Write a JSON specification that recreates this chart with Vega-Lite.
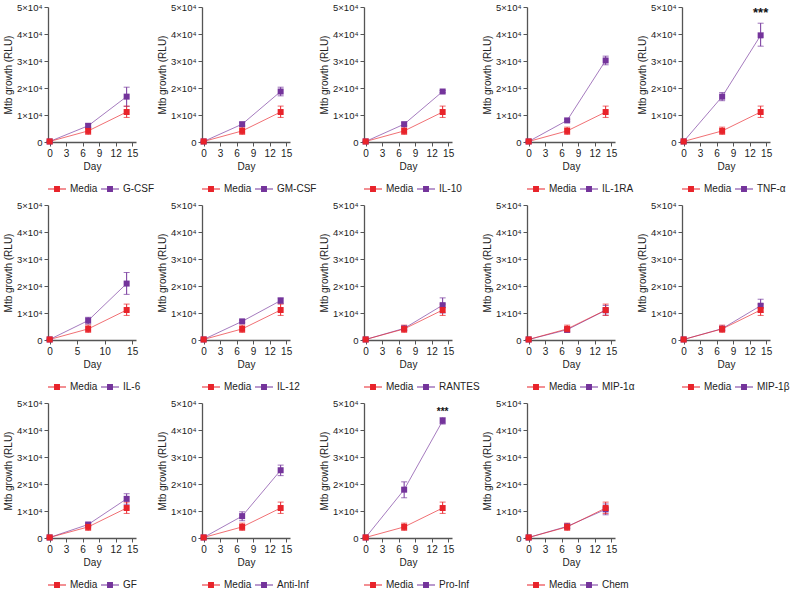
{
"$schema":"https://vega.github.io/schema/vega-lite/v6.json",
"padding":{"left":3,"top":2,"right":0,"bottom":0},
"background":"white",
"data":{"values":[
{"p":"G-CSF","g":"G-CSF","d":0,"m":200,"lo":100,"hi":300},
{"p":"G-CSF","g":"G-CSF","d":7,"m":6000,"lo":5300,"hi":6700},
{"p":"G-CSF","g":"G-CSF","d":14,"m":16800,"lo":13200,"hi":20300},
{"p":"GM-CSF","g":"GM-CSF","d":0,"m":200,"lo":100,"hi":300},
{"p":"GM-CSF","g":"GM-CSF","d":7,"m":6600,"lo":6000,"hi":7200},
{"p":"GM-CSF","g":"GM-CSF","d":14,"m":18700,"lo":17100,"hi":20300},
{"p":"IL-10","g":"IL-10","d":0,"m":200,"lo":100,"hi":300},
{"p":"IL-10","g":"IL-10","d":7,"m":6600,"lo":6100,"hi":7100},
{"p":"IL-10","g":"IL-10","d":14,"m":18700,"lo":18300,"hi":19100},
{"p":"IL-1RA","g":"IL-1RA","d":0,"m":200,"lo":100,"hi":300},
{"p":"IL-1RA","g":"IL-1RA","d":7,"m":8000,"lo":7600,"hi":8400},
{"p":"IL-1RA","g":"IL-1RA","d":14,"m":30200,"lo":28600,"hi":31800},
{"p":"TNF-α","g":"TNF-α","d":0,"m":200,"lo":100,"hi":300},
{"p":"TNF-α","g":"TNF-α","d":7,"m":16800,"lo":15300,"hi":18300},
{"p":"TNF-α","g":"TNF-α","d":14,"m":39500,"lo":35500,"hi":44000,"sig":"***"},
{"p":"IL-6","g":"IL-6","d":0,"m":200,"lo":100,"hi":300},
{"p":"IL-6","g":"IL-6","d":7,"m":7200,"lo":5900,"hi":8400},
{"p":"IL-6","g":"IL-6","d":14,"m":20900,"lo":16900,"hi":25000},
{"p":"IL-12","g":"IL-12","d":0,"m":200,"lo":100,"hi":300},
{"p":"IL-12","g":"IL-12","d":7,"m":6900,"lo":6500,"hi":7300},
{"p":"IL-12","g":"IL-12","d":14,"m":14600,"lo":13500,"hi":15600},
{"p":"RANTES","g":"RANTES","d":0,"m":200,"lo":100,"hi":300},
{"p":"RANTES","g":"RANTES","d":7,"m":4300,"lo":3600,"hi":5000},
{"p":"RANTES","g":"RANTES","d":14,"m":12900,"lo":10000,"hi":15600},
{"p":"MIP-1α","g":"MIP-1α","d":0,"m":200,"lo":100,"hi":300},
{"p":"MIP-1α","g":"MIP-1α","d":7,"m":3800,"lo":3000,"hi":4600},
{"p":"MIP-1α","g":"MIP-1α","d":14,"m":11000,"lo":9200,"hi":12800},
{"p":"MIP-1β","g":"MIP-1β","d":0,"m":200,"lo":100,"hi":300},
{"p":"MIP-1β","g":"MIP-1β","d":7,"m":4200,"lo":3500,"hi":4900},
{"p":"MIP-1β","g":"MIP-1β","d":14,"m":12700,"lo":10300,"hi":15100},
{"p":"GF","g":"GF","d":0,"m":200,"lo":100,"hi":300},
{"p":"GF","g":"GF","d":7,"m":5000,"lo":4500,"hi":5500},
{"p":"GF","g":"GF","d":14,"m":14500,"lo":12500,"hi":16400},
{"p":"Anti-Inf","g":"Anti-Inf","d":0,"m":200,"lo":100,"hi":300},
{"p":"Anti-Inf","g":"Anti-Inf","d":7,"m":8100,"lo":6400,"hi":9700},
{"p":"Anti-Inf","g":"Anti-Inf","d":14,"m":25100,"lo":23100,"hi":27000},
{"p":"Pro-Inf","g":"Pro-Inf","d":0,"m":200,"lo":100,"hi":300},
{"p":"Pro-Inf","g":"Pro-Inf","d":7,"m":17900,"lo":14900,"hi":20800},
{"p":"Pro-Inf","g":"Pro-Inf","d":14,"m":43400,"lo":42200,"hi":44600,"sig":"***"},
{"p":"Chem","g":"Chem","d":0,"m":200,"lo":100,"hi":300},
{"p":"Chem","g":"Chem","d":7,"m":4300,"lo":3500,"hi":5100},
{"p":"Chem","g":"Chem","d":14,"m":10600,"lo":8600,"hi":12600},
{"p":"G-CSF","g":"Media","d":0,"m":200,"lo":100,"hi":300},
{"p":"G-CSF","g":"Media","d":7,"m":4100,"lo":2800,"hi":5500},
{"p":"G-CSF","g":"Media","d":14,"m":11100,"lo":9100,"hi":13300},
{"p":"GM-CSF","g":"Media","d":0,"m":200,"lo":100,"hi":300},
{"p":"GM-CSF","g":"Media","d":7,"m":4100,"lo":2800,"hi":5500},
{"p":"GM-CSF","g":"Media","d":14,"m":11100,"lo":9100,"hi":13300},
{"p":"IL-10","g":"Media","d":0,"m":200,"lo":100,"hi":300},
{"p":"IL-10","g":"Media","d":7,"m":4100,"lo":2800,"hi":5500},
{"p":"IL-10","g":"Media","d":14,"m":11100,"lo":9100,"hi":13300},
{"p":"IL-1RA","g":"Media","d":0,"m":200,"lo":100,"hi":300},
{"p":"IL-1RA","g":"Media","d":7,"m":4100,"lo":2800,"hi":5500},
{"p":"IL-1RA","g":"Media","d":14,"m":11100,"lo":9100,"hi":13300},
{"p":"TNF-α","g":"Media","d":0,"m":200,"lo":100,"hi":300},
{"p":"TNF-α","g":"Media","d":7,"m":4100,"lo":2800,"hi":5500},
{"p":"TNF-α","g":"Media","d":14,"m":11100,"lo":9100,"hi":13300},
{"p":"IL-6","g":"Media","d":0,"m":200,"lo":100,"hi":300},
{"p":"IL-6","g":"Media","d":7,"m":4100,"lo":2800,"hi":5500},
{"p":"IL-6","g":"Media","d":14,"m":11100,"lo":9100,"hi":13300},
{"p":"IL-12","g":"Media","d":0,"m":200,"lo":100,"hi":300},
{"p":"IL-12","g":"Media","d":7,"m":4100,"lo":2800,"hi":5500},
{"p":"IL-12","g":"Media","d":14,"m":11100,"lo":9100,"hi":13300},
{"p":"RANTES","g":"Media","d":0,"m":200,"lo":100,"hi":300},
{"p":"RANTES","g":"Media","d":7,"m":4100,"lo":2800,"hi":5500},
{"p":"RANTES","g":"Media","d":14,"m":11100,"lo":9100,"hi":13300},
{"p":"MIP-1α","g":"Media","d":0,"m":200,"lo":100,"hi":300},
{"p":"MIP-1α","g":"Media","d":7,"m":4100,"lo":2800,"hi":5500},
{"p":"MIP-1α","g":"Media","d":14,"m":11100,"lo":9100,"hi":13300},
{"p":"MIP-1β","g":"Media","d":0,"m":200,"lo":100,"hi":300},
{"p":"MIP-1β","g":"Media","d":7,"m":4100,"lo":2800,"hi":5500},
{"p":"MIP-1β","g":"Media","d":14,"m":11100,"lo":9100,"hi":13300},
{"p":"GF","g":"Media","d":0,"m":200,"lo":100,"hi":300},
{"p":"GF","g":"Media","d":7,"m":4100,"lo":2800,"hi":5500},
{"p":"GF","g":"Media","d":14,"m":11100,"lo":9100,"hi":13300},
{"p":"Anti-Inf","g":"Media","d":0,"m":200,"lo":100,"hi":300},
{"p":"Anti-Inf","g":"Media","d":7,"m":4100,"lo":2800,"hi":5500},
{"p":"Anti-Inf","g":"Media","d":14,"m":11100,"lo":9100,"hi":13300},
{"p":"Pro-Inf","g":"Media","d":0,"m":200,"lo":100,"hi":300},
{"p":"Pro-Inf","g":"Media","d":7,"m":4100,"lo":2800,"hi":5500},
{"p":"Pro-Inf","g":"Media","d":14,"m":11100,"lo":9100,"hi":13300},
{"p":"Chem","g":"Media","d":0,"m":200,"lo":100,"hi":300},
{"p":"Chem","g":"Media","d":7,"m":4100,"lo":2800,"hi":5500},
{"p":"Chem","g":"Media","d":14,"m":11100,"lo":9100,"hi":13300}
]},
"columns":5,
"spacing":{"row":6,"column":2},
"resolve":{"scale":{"color":"independent"},"legend":{"color":"independent"}},
"concat":[
{"width":88,"height":135,"transform":[{"filter":"datum.p == 'G-CSF'"}],
"encoding":{"x":{"field":"d","type":"quantitative","scale":{"domain":[-0.3,15.7],"nice":false,"zero":false},"axis":{"values":[0,3,6,9,12,15],"title":"Day"}},
"y":{"field":"m","type":"quantitative","scale":{"domain":[0,50000],"nice":false},"axis":{"values":[0,10000,20000,30000,40000,50000],"labelExpr":"datum.value == 0 ? '0' : (datum.value/10000) + '×10⁴'","title":"Mtb growth (RLU)"}},
"color":{"field":"g","type":"nominal","scale":{"domain":["Media","G-CSF"],"range":["#e8232a","#74349b"]},"legend":{"title":null}}},
"layer":[
{"mark":{"type":"line","strokeWidth":1,"opacity":0.65}},
{"mark":{"type":"rule","strokeWidth":1},"encoding":{"y":{"field":"lo","type":"quantitative","scale":{"domain":[0,50000],"nice":false}},"y2":{"field":"hi"}}},
{"mark":{"type":"tick","orient":"horizontal","size":6,"thickness":1},"encoding":{"y":{"field":"lo","type":"quantitative","scale":{"domain":[0,50000],"nice":false}}}},
{"mark":{"type":"tick","orient":"horizontal","size":6,"thickness":1},"encoding":{"y":{"field":"hi","type":"quantitative","scale":{"domain":[0,50000],"nice":false}}}},
{"mark":{"type":"square","size":36,"opacity":1,"filled":true}}
]},
{"width":88,"height":135,"transform":[{"filter":"datum.p == 'GM-CSF'"}],
"encoding":{"x":{"field":"d","type":"quantitative","scale":{"domain":[-0.3,15.7],"nice":false,"zero":false},"axis":{"values":[0,3,6,9,12,15],"title":"Day"}},
"y":{"field":"m","type":"quantitative","scale":{"domain":[0,50000],"nice":false},"axis":{"values":[0,10000,20000,30000,40000,50000],"labelExpr":"datum.value == 0 ? '0' : (datum.value/10000) + '×10⁴'","title":"Mtb growth (RLU)"}},
"color":{"field":"g","type":"nominal","scale":{"domain":["Media","GM-CSF"],"range":["#e8232a","#74349b"]},"legend":{"title":null}}},
"layer":[
{"mark":{"type":"line","strokeWidth":1,"opacity":0.65}},
{"mark":{"type":"rule","strokeWidth":1},"encoding":{"y":{"field":"lo","type":"quantitative","scale":{"domain":[0,50000],"nice":false}},"y2":{"field":"hi"}}},
{"mark":{"type":"tick","orient":"horizontal","size":6,"thickness":1},"encoding":{"y":{"field":"lo","type":"quantitative","scale":{"domain":[0,50000],"nice":false}}}},
{"mark":{"type":"tick","orient":"horizontal","size":6,"thickness":1},"encoding":{"y":{"field":"hi","type":"quantitative","scale":{"domain":[0,50000],"nice":false}}}},
{"mark":{"type":"square","size":36,"opacity":1,"filled":true}}
]},
{"width":88,"height":135,"transform":[{"filter":"datum.p == 'IL-10'"}],
"encoding":{"x":{"field":"d","type":"quantitative","scale":{"domain":[-0.3,15.7],"nice":false,"zero":false},"axis":{"values":[0,3,6,9,12,15],"title":"Day"}},
"y":{"field":"m","type":"quantitative","scale":{"domain":[0,50000],"nice":false},"axis":{"values":[0,10000,20000,30000,40000,50000],"labelExpr":"datum.value == 0 ? '0' : (datum.value/10000) + '×10⁴'","title":"Mtb growth (RLU)"}},
"color":{"field":"g","type":"nominal","scale":{"domain":["Media","IL-10"],"range":["#e8232a","#74349b"]},"legend":{"title":null}}},
"layer":[
{"mark":{"type":"line","strokeWidth":1,"opacity":0.65}},
{"mark":{"type":"rule","strokeWidth":1},"encoding":{"y":{"field":"lo","type":"quantitative","scale":{"domain":[0,50000],"nice":false}},"y2":{"field":"hi"}}},
{"mark":{"type":"tick","orient":"horizontal","size":6,"thickness":1},"encoding":{"y":{"field":"lo","type":"quantitative","scale":{"domain":[0,50000],"nice":false}}}},
{"mark":{"type":"tick","orient":"horizontal","size":6,"thickness":1},"encoding":{"y":{"field":"hi","type":"quantitative","scale":{"domain":[0,50000],"nice":false}}}},
{"mark":{"type":"square","size":36,"opacity":1,"filled":true}}
]},
{"width":88,"height":135,"transform":[{"filter":"datum.p == 'IL-1RA'"}],
"encoding":{"x":{"field":"d","type":"quantitative","scale":{"domain":[-0.3,15.7],"nice":false,"zero":false},"axis":{"values":[0,3,6,9,12,15],"title":"Day"}},
"y":{"field":"m","type":"quantitative","scale":{"domain":[0,50000],"nice":false},"axis":{"values":[0,10000,20000,30000,40000,50000],"labelExpr":"datum.value == 0 ? '0' : (datum.value/10000) + '×10⁴'","title":"Mtb growth (RLU)"}},
"color":{"field":"g","type":"nominal","scale":{"domain":["Media","IL-1RA"],"range":["#e8232a","#74349b"]},"legend":{"title":null}}},
"layer":[
{"mark":{"type":"line","strokeWidth":1,"opacity":0.65}},
{"mark":{"type":"rule","strokeWidth":1},"encoding":{"y":{"field":"lo","type":"quantitative","scale":{"domain":[0,50000],"nice":false}},"y2":{"field":"hi"}}},
{"mark":{"type":"tick","orient":"horizontal","size":6,"thickness":1},"encoding":{"y":{"field":"lo","type":"quantitative","scale":{"domain":[0,50000],"nice":false}}}},
{"mark":{"type":"tick","orient":"horizontal","size":6,"thickness":1},"encoding":{"y":{"field":"hi","type":"quantitative","scale":{"domain":[0,50000],"nice":false}}}},
{"mark":{"type":"square","size":36,"opacity":1,"filled":true}}
]},
{"width":88,"height":135,"transform":[{"filter":"datum.p == 'TNF-α'"}],
"encoding":{"x":{"field":"d","type":"quantitative","scale":{"domain":[-0.3,15.7],"nice":false,"zero":false},"axis":{"values":[0,3,6,9,12,15],"title":"Day"}},
"y":{"field":"m","type":"quantitative","scale":{"domain":[0,50000],"nice":false},"axis":{"values":[0,10000,20000,30000,40000,50000],"labelExpr":"datum.value == 0 ? '0' : (datum.value/10000) + '×10⁴'","title":"Mtb growth (RLU)"}},
"color":{"field":"g","type":"nominal","scale":{"domain":["Media","TNF-α"],"range":["#e8232a","#74349b"]},"legend":{"title":null}}},
"layer":[
{"mark":{"type":"line","strokeWidth":1,"opacity":0.65}},
{"mark":{"type":"rule","strokeWidth":1},"encoding":{"y":{"field":"lo","type":"quantitative","scale":{"domain":[0,50000],"nice":false}},"y2":{"field":"hi"}}},
{"mark":{"type":"tick","orient":"horizontal","size":6,"thickness":1},"encoding":{"y":{"field":"lo","type":"quantitative","scale":{"domain":[0,50000],"nice":false}}}},
{"mark":{"type":"tick","orient":"horizontal","size":6,"thickness":1},"encoding":{"y":{"field":"hi","type":"quantitative","scale":{"domain":[0,50000],"nice":false}}}},
{"mark":{"type":"square","size":36,"opacity":1,"filled":true}},
{"transform":[{"filter":"datum.sig"}],"mark":{"type":"text","fontSize":13,"fontWeight":"bold","baseline":"bottom","dy":-3,"color":"#111"},"encoding":{"y":{"field":"hi","type":"quantitative","scale":{"domain":[0,50000],"nice":false}},"text":{"field":"sig"},"color":{"value":"#111"}}}
]},
{"width":88,"height":135,"transform":[{"filter":"datum.p == 'IL-6'"}],
"encoding":{"x":{"field":"d","type":"quantitative","scale":{"domain":[-0.3,15.7],"nice":false,"zero":false},"axis":{"values":[0,5,10,15],"title":"Day"}},
"y":{"field":"m","type":"quantitative","scale":{"domain":[0,50000],"nice":false},"axis":{"values":[0,10000,20000,30000,40000,50000],"labelExpr":"datum.value == 0 ? '0' : (datum.value/10000) + '×10⁴'","title":"Mtb growth (RLU)"}},
"color":{"field":"g","type":"nominal","scale":{"domain":["Media","IL-6"],"range":["#e8232a","#74349b"]},"legend":{"title":null}}},
"layer":[
{"mark":{"type":"line","strokeWidth":1,"opacity":0.65}},
{"mark":{"type":"rule","strokeWidth":1},"encoding":{"y":{"field":"lo","type":"quantitative","scale":{"domain":[0,50000],"nice":false}},"y2":{"field":"hi"}}},
{"mark":{"type":"tick","orient":"horizontal","size":6,"thickness":1},"encoding":{"y":{"field":"lo","type":"quantitative","scale":{"domain":[0,50000],"nice":false}}}},
{"mark":{"type":"tick","orient":"horizontal","size":6,"thickness":1},"encoding":{"y":{"field":"hi","type":"quantitative","scale":{"domain":[0,50000],"nice":false}}}},
{"mark":{"type":"square","size":36,"opacity":1,"filled":true}}
]},
{"width":88,"height":135,"transform":[{"filter":"datum.p == 'IL-12'"}],
"encoding":{"x":{"field":"d","type":"quantitative","scale":{"domain":[-0.3,15.7],"nice":false,"zero":false},"axis":{"values":[0,3,6,9,12,15],"title":"Day"}},
"y":{"field":"m","type":"quantitative","scale":{"domain":[0,50000],"nice":false},"axis":{"values":[0,10000,20000,30000,40000,50000],"labelExpr":"datum.value == 0 ? '0' : (datum.value/10000) + '×10⁴'","title":"Mtb growth (RLU)"}},
"color":{"field":"g","type":"nominal","scale":{"domain":["Media","IL-12"],"range":["#e8232a","#74349b"]},"legend":{"title":null}}},
"layer":[
{"mark":{"type":"line","strokeWidth":1,"opacity":0.65}},
{"mark":{"type":"rule","strokeWidth":1},"encoding":{"y":{"field":"lo","type":"quantitative","scale":{"domain":[0,50000],"nice":false}},"y2":{"field":"hi"}}},
{"mark":{"type":"tick","orient":"horizontal","size":6,"thickness":1},"encoding":{"y":{"field":"lo","type":"quantitative","scale":{"domain":[0,50000],"nice":false}}}},
{"mark":{"type":"tick","orient":"horizontal","size":6,"thickness":1},"encoding":{"y":{"field":"hi","type":"quantitative","scale":{"domain":[0,50000],"nice":false}}}},
{"mark":{"type":"square","size":36,"opacity":1,"filled":true}}
]},
{"width":88,"height":135,"transform":[{"filter":"datum.p == 'RANTES'"}],
"encoding":{"x":{"field":"d","type":"quantitative","scale":{"domain":[-0.3,15.7],"nice":false,"zero":false},"axis":{"values":[0,3,6,9,12,15],"title":"Day"}},
"y":{"field":"m","type":"quantitative","scale":{"domain":[0,50000],"nice":false},"axis":{"values":[0,10000,20000,30000,40000,50000],"labelExpr":"datum.value == 0 ? '0' : (datum.value/10000) + '×10⁴'","title":"Mtb growth (RLU)"}},
"color":{"field":"g","type":"nominal","scale":{"domain":["Media","RANTES"],"range":["#e8232a","#74349b"]},"legend":{"title":null}}},
"layer":[
{"mark":{"type":"line","strokeWidth":1,"opacity":0.65}},
{"mark":{"type":"rule","strokeWidth":1},"encoding":{"y":{"field":"lo","type":"quantitative","scale":{"domain":[0,50000],"nice":false}},"y2":{"field":"hi"}}},
{"mark":{"type":"tick","orient":"horizontal","size":6,"thickness":1},"encoding":{"y":{"field":"lo","type":"quantitative","scale":{"domain":[0,50000],"nice":false}}}},
{"mark":{"type":"tick","orient":"horizontal","size":6,"thickness":1},"encoding":{"y":{"field":"hi","type":"quantitative","scale":{"domain":[0,50000],"nice":false}}}},
{"mark":{"type":"square","size":36,"opacity":1,"filled":true}}
]},
{"width":88,"height":135,"transform":[{"filter":"datum.p == 'MIP-1α'"}],
"encoding":{"x":{"field":"d","type":"quantitative","scale":{"domain":[-0.3,15.7],"nice":false,"zero":false},"axis":{"values":[0,3,6,9,12,15],"title":"Day"}},
"y":{"field":"m","type":"quantitative","scale":{"domain":[0,50000],"nice":false},"axis":{"values":[0,10000,20000,30000,40000,50000],"labelExpr":"datum.value == 0 ? '0' : (datum.value/10000) + '×10⁴'","title":"Mtb growth (RLU)"}},
"color":{"field":"g","type":"nominal","scale":{"domain":["Media","MIP-1α"],"range":["#e8232a","#74349b"]},"legend":{"title":null}}},
"layer":[
{"mark":{"type":"line","strokeWidth":1,"opacity":0.65}},
{"mark":{"type":"rule","strokeWidth":1},"encoding":{"y":{"field":"lo","type":"quantitative","scale":{"domain":[0,50000],"nice":false}},"y2":{"field":"hi"}}},
{"mark":{"type":"tick","orient":"horizontal","size":6,"thickness":1},"encoding":{"y":{"field":"lo","type":"quantitative","scale":{"domain":[0,50000],"nice":false}}}},
{"mark":{"type":"tick","orient":"horizontal","size":6,"thickness":1},"encoding":{"y":{"field":"hi","type":"quantitative","scale":{"domain":[0,50000],"nice":false}}}},
{"mark":{"type":"square","size":36,"opacity":1,"filled":true}}
]},
{"width":88,"height":135,"transform":[{"filter":"datum.p == 'MIP-1β'"}],
"encoding":{"x":{"field":"d","type":"quantitative","scale":{"domain":[-0.3,15.7],"nice":false,"zero":false},"axis":{"values":[0,3,6,9,12,15],"title":"Day"}},
"y":{"field":"m","type":"quantitative","scale":{"domain":[0,50000],"nice":false},"axis":{"values":[0,10000,20000,30000,40000,50000],"labelExpr":"datum.value == 0 ? '0' : (datum.value/10000) + '×10⁴'","title":"Mtb growth (RLU)"}},
"color":{"field":"g","type":"nominal","scale":{"domain":["Media","MIP-1β"],"range":["#e8232a","#74349b"]},"legend":{"title":null}}},
"layer":[
{"mark":{"type":"line","strokeWidth":1,"opacity":0.65}},
{"mark":{"type":"rule","strokeWidth":1},"encoding":{"y":{"field":"lo","type":"quantitative","scale":{"domain":[0,50000],"nice":false}},"y2":{"field":"hi"}}},
{"mark":{"type":"tick","orient":"horizontal","size":6,"thickness":1},"encoding":{"y":{"field":"lo","type":"quantitative","scale":{"domain":[0,50000],"nice":false}}}},
{"mark":{"type":"tick","orient":"horizontal","size":6,"thickness":1},"encoding":{"y":{"field":"hi","type":"quantitative","scale":{"domain":[0,50000],"nice":false}}}},
{"mark":{"type":"square","size":36,"opacity":1,"filled":true}}
]},
{"width":88,"height":135,"transform":[{"filter":"datum.p == 'GF'"}],
"encoding":{"x":{"field":"d","type":"quantitative","scale":{"domain":[-0.3,15.7],"nice":false,"zero":false},"axis":{"values":[0,3,6,9,12,15],"title":"Day"}},
"y":{"field":"m","type":"quantitative","scale":{"domain":[0,50000],"nice":false},"axis":{"values":[0,10000,20000,30000,40000,50000],"labelExpr":"datum.value == 0 ? '0' : (datum.value/10000) + '×10⁴'","title":"Mtb growth (RLU)"}},
"color":{"field":"g","type":"nominal","scale":{"domain":["Media","GF"],"range":["#e8232a","#74349b"]},"legend":{"title":null}}},
"layer":[
{"mark":{"type":"line","strokeWidth":1,"opacity":0.65}},
{"mark":{"type":"rule","strokeWidth":1},"encoding":{"y":{"field":"lo","type":"quantitative","scale":{"domain":[0,50000],"nice":false}},"y2":{"field":"hi"}}},
{"mark":{"type":"tick","orient":"horizontal","size":6,"thickness":1},"encoding":{"y":{"field":"lo","type":"quantitative","scale":{"domain":[0,50000],"nice":false}}}},
{"mark":{"type":"tick","orient":"horizontal","size":6,"thickness":1},"encoding":{"y":{"field":"hi","type":"quantitative","scale":{"domain":[0,50000],"nice":false}}}},
{"mark":{"type":"square","size":36,"opacity":1,"filled":true}}
]},
{"width":88,"height":135,"transform":[{"filter":"datum.p == 'Anti-Inf'"}],
"encoding":{"x":{"field":"d","type":"quantitative","scale":{"domain":[-0.3,15.7],"nice":false,"zero":false},"axis":{"values":[0,3,6,9,12,15],"title":"Day"}},
"y":{"field":"m","type":"quantitative","scale":{"domain":[0,50000],"nice":false},"axis":{"values":[0,10000,20000,30000,40000,50000],"labelExpr":"datum.value == 0 ? '0' : (datum.value/10000) + '×10⁴'","title":"Mtb growth (RLU)"}},
"color":{"field":"g","type":"nominal","scale":{"domain":["Media","Anti-Inf"],"range":["#e8232a","#74349b"]},"legend":{"title":null}}},
"layer":[
{"mark":{"type":"line","strokeWidth":1,"opacity":0.65}},
{"mark":{"type":"rule","strokeWidth":1},"encoding":{"y":{"field":"lo","type":"quantitative","scale":{"domain":[0,50000],"nice":false}},"y2":{"field":"hi"}}},
{"mark":{"type":"tick","orient":"horizontal","size":6,"thickness":1},"encoding":{"y":{"field":"lo","type":"quantitative","scale":{"domain":[0,50000],"nice":false}}}},
{"mark":{"type":"tick","orient":"horizontal","size":6,"thickness":1},"encoding":{"y":{"field":"hi","type":"quantitative","scale":{"domain":[0,50000],"nice":false}}}},
{"mark":{"type":"square","size":36,"opacity":1,"filled":true}}
]},
{"width":88,"height":135,"transform":[{"filter":"datum.p == 'Pro-Inf'"}],
"encoding":{"x":{"field":"d","type":"quantitative","scale":{"domain":[-0.3,15.7],"nice":false,"zero":false},"axis":{"values":[0,3,6,9,12,15],"title":"Day"}},
"y":{"field":"m","type":"quantitative","scale":{"domain":[0,50000],"nice":false},"axis":{"values":[0,10000,20000,30000,40000,50000],"labelExpr":"datum.value == 0 ? '0' : (datum.value/10000) + '×10⁴'","title":"Mtb growth (RLU)"}},
"color":{"field":"g","type":"nominal","scale":{"domain":["Media","Pro-Inf"],"range":["#e8232a","#74349b"]},"legend":{"title":null}}},
"layer":[
{"mark":{"type":"line","strokeWidth":1,"opacity":0.65}},
{"mark":{"type":"rule","strokeWidth":1},"encoding":{"y":{"field":"lo","type":"quantitative","scale":{"domain":[0,50000],"nice":false}},"y2":{"field":"hi"}}},
{"mark":{"type":"tick","orient":"horizontal","size":6,"thickness":1},"encoding":{"y":{"field":"lo","type":"quantitative","scale":{"domain":[0,50000],"nice":false}}}},
{"mark":{"type":"tick","orient":"horizontal","size":6,"thickness":1},"encoding":{"y":{"field":"hi","type":"quantitative","scale":{"domain":[0,50000],"nice":false}}}},
{"mark":{"type":"square","size":36,"opacity":1,"filled":true}},
{"transform":[{"filter":"datum.sig"}],"mark":{"type":"text","fontSize":10,"fontWeight":"bold","baseline":"bottom","dy":-1,"color":"#111"},"encoding":{"y":{"field":"hi","type":"quantitative","scale":{"domain":[0,50000],"nice":false}},"text":{"field":"sig"},"color":{"value":"#111"}}}
]},
{"width":88,"height":135,"transform":[{"filter":"datum.p == 'Chem'"}],
"encoding":{"x":{"field":"d","type":"quantitative","scale":{"domain":[-0.3,15.7],"nice":false,"zero":false},"axis":{"values":[0,3,6,9,12,15],"title":"Day"}},
"y":{"field":"m","type":"quantitative","scale":{"domain":[0,50000],"nice":false},"axis":{"values":[0,10000,20000,30000,40000,50000],"labelExpr":"datum.value == 0 ? '0' : (datum.value/10000) + '×10⁴'","title":"Mtb growth (RLU)"}},
"color":{"field":"g","type":"nominal","scale":{"domain":["Media","Chem"],"range":["#e8232a","#74349b"]},"legend":{"title":null}}},
"layer":[
{"mark":{"type":"line","strokeWidth":1,"opacity":0.65}},
{"mark":{"type":"rule","strokeWidth":1},"encoding":{"y":{"field":"lo","type":"quantitative","scale":{"domain":[0,50000],"nice":false}},"y2":{"field":"hi"}}},
{"mark":{"type":"tick","orient":"horizontal","size":6,"thickness":1},"encoding":{"y":{"field":"lo","type":"quantitative","scale":{"domain":[0,50000],"nice":false}}}},
{"mark":{"type":"tick","orient":"horizontal","size":6,"thickness":1},"encoding":{"y":{"field":"hi","type":"quantitative","scale":{"domain":[0,50000],"nice":false}}}},
{"mark":{"type":"square","size":36,"opacity":1,"filled":true}}
]}
],
"config":{
"font":"Liberation Sans",
"view":{"stroke":null},
"axis":{"grid":false,"domainColor":"#555","tickColor":"#555","domainWidth":1.3,"tickWidth":1,"tickSize":4,"labelColor":"#222","titleColor":"#222","titleFontWeight":"normal","titleFontSize":10,"labelPadding":2},
"axisX":{"labelFontSize":10,"titlePadding":3},
"axisY":{"labelFontSize":9.5,"titlePadding":3},
"legend":{"orient":"bottom","direction":"horizontal","symbolType":"M-1,-0.06L1,-0.06L1,0.06L-1,0.06Z M-0.33,-0.33L0.33,-0.33L0.33,0.33L-0.33,0.33Z","symbolSize":324,"symbolStrokeWidth":0,"symbolOpacity":1,"labelFontSize":10,"labelColor":"#222","columnPadding":3,"labelOffset":4,"offset":9,"padding":0}
}
}
